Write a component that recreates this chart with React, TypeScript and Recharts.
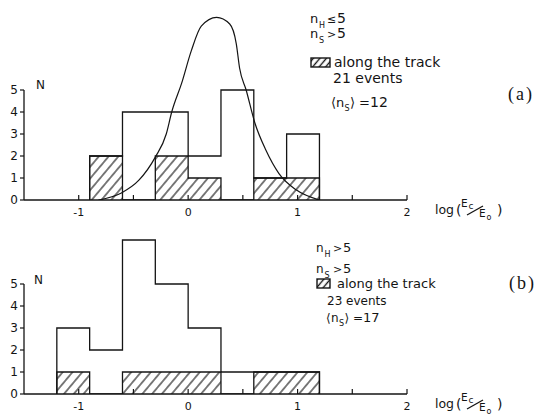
import React from 'react';
import { ComposedChart, Line, Area, XAxis, YAxis, ReferenceLine } from 'recharts';

// Histogram bins in log(Ec/E0), bin width 0.3
const binEdgesA = [-0.9, -0.6, -0.3, 0, 0.3, 0.6, 0.9, 1.2];
const totalCountsA = [2, 4, 4, 2, 5, 1, 3];
const trackCountsA = [2, 0, 2, 1, 0, 1, 1];

const binEdgesB = [-1.2, -0.9, -0.6, -0.3, 0, 0.3, 0.6, 0.9, 1.2];
const totalCountsB = [3, 2, 7, 5, 3, 1, 1, 1];
const trackCountsB = [1, 0, 1, 1, 1, 0, 1, 1];

// Expected distribution drawn over panel (a)
const curveX = [-0.82, -0.61, -0.45, -0.3, -0.2, -0.15, -0.06, 0.03, 0.12, 0.26, 0.38, 0.44, 0.47, 0.53, 0.61, 0.71, 0.83, 0.99, 1.2];
const curveN = [0, 0.32, 0.9, 1.95, 3.0, 4.0, 5.3, 6.8, 7.9, 8.3, 8.0, 7.1, 6.0, 5.0, 3.5, 2.27, 1.2, 0.45, 0];

const xTicks = [-1, -0.5, 0, 0.5, 1, 1.5, 2];
const yTicks = [0, 1, 2, 3, 4, 5];

const INK = '#141414';
const SANS = '"DejaVu Sans", sans-serif';

// Step outline points: rise at the first edge, one point per bin, drop at the last edge
const stepPoints = (edges: number[], counts: number[]) => {
  const pts = [{ x: edges[0], n: 0 }];
  counts.forEach((c, i) => pts.push({ x: edges[i], n: c }));
  pts.push({ x: edges[edges.length - 1], n: 0 });
  return pts;
};

const curveData = curveX.map((x, i) => ({ x, n: curveN[i] }));

const fmtTick = (v: number) => (Number.isInteger(v) ? String(v) : '');

type PanelProps = {
  top: number;
  height: number;
  marginTop: number;
  axisHeight: number;
  edges: number[];
  totals: number[];
  track: number[];
  curve?: { x: number; n: number }[];
};

function Panel({ top, height, marginTop, axisHeight, edges, totals, track, curve }: PanelProps) {
  return (
    <div style={{ position: 'absolute', left: 0, top }}>
      <ComposedChart width={543} height={height} margin={{ top: marginTop, right: 136, bottom: 0, left: 0 }}>
        <XAxis
          type="number"
          dataKey="x"
          domain={[-1.5, 2]}
          allowDataOverflow
          ticks={xTicks}
          tickFormatter={fmtTick}
          height={axisHeight}
          tickSize={-5}
          tickMargin={13}
          axisLine={{ stroke: INK, strokeWidth: 1.3 }}
          tickLine={{ stroke: INK, strokeWidth: 1.2 }}
          tick={{ fill: INK, fontSize: 11, fontFamily: SANS }}
        />
        <YAxis
          type="number"
          domain={[0, 9]}
          allowDataOverflow
          ticks={yTicks}
          width={24}
          axisLine={false}
          tickSize={4}
          tickMargin={2}
          tickLine={{ stroke: INK, strokeWidth: 1.2 }}
          tick={{ fill: INK, fontSize: 12, fontFamily: SANS }}
        />
        <ReferenceLine
          segment={[{ x: -1.5, y: 0 }, { x: -1.5, y: 5 }]}
          stroke={INK}
          strokeWidth={1.3}
        />
        <Area
          data={stepPoints(edges, track)}
          dataKey="n"
          type="stepAfter"
          fill="url(#hatch)"
          fillOpacity={1}
          stroke={INK}
          strokeWidth={1.3}
          dot={false}
          activeDot={false}
          isAnimationActive={false}
        />
        <Line
          data={stepPoints(edges, totals)}
          dataKey="n"
          type="stepAfter"
          stroke={INK}
          strokeWidth={1.3}
          dot={false}
          activeDot={false}
          isAnimationActive={false}
        />
        {curve && (
          <Line
            data={curve}
            dataKey="n"
            type="monotone"
            stroke={INK}
            strokeWidth={1.2}
            dot={false}
            activeDot={false}
            isAnimationActive={false}
          />
        )}
      </ComposedChart>
    </div>
  );
}

function AxisTitle({ dy }: { dy: number }) {
  return (
    <g fill={INK} fontFamily={SANS}>
      <text x={435} y={214 + dy} fontSize={12.5}>log</text>
      <text x={456} y={215 + dy} fontSize={14}>(</text>
      <text x={461} y={207 + dy} fontSize={10.5}>E</text>
      <text x={468.5} y={209 + dy} fontSize={9}>c</text>
      <line x1={467} y1={215 + dy} x2={483} y2={206 + dy} stroke={INK} strokeWidth={1.3} />
      <text x={479} y={217 + dy} fontSize={10.5}>E</text>
      <text x={486.5} y={220 + dy} fontSize={8}>o</text>
      <text x={497} y={215 + dy} fontSize={14}>)</text>
    </g>
  );
}

export default function App() {
  return (
    <div style={{ position: 'absolute', left: 0, top: 0, width: 543, height: 415, background: '#fff' }}>
      <Panel
        top={0}
        height={230}
        marginTop={2}
        axisHeight={30}
        edges={binEdgesA}
        totals={totalCountsA}
        track={trackCountsA}
        curve={curveData}
      />
      <Panel
        top={196}
        height={219}
        marginTop={0}
        axisHeight={21}
        edges={binEdgesB}
        totals={totalCountsB}
        track={trackCountsB}
      />
      <svg
        width={543}
        height={415}
        style={{ position: 'absolute', left: 0, top: 0, pointerEvents: 'none' }}
      >
        <defs>
          <pattern id="hatch" patternUnits="userSpaceOnUse" width={7.5} height={7.5} patternTransform="rotate(40)">
            <line x1={3.75} y1={0} x2={3.75} y2={7.5} stroke={INK} strokeWidth={1.1} />
          </pattern>
          <pattern id="hatchKey" patternUnits="userSpaceOnUse" width={5} height={5} patternTransform="rotate(40)">
            <line x1={2.5} y1={0} x2={2.5} y2={5} stroke={INK} strokeWidth={1.4} />
          </pattern>
        </defs>

        {/* panel (a) */}
        <g fill={INK} fontFamily={SANS}>
          <text x={36} y={89} fontSize={12}>N</text>

          <text x={310} y={23} fontSize={13}>n</text>
          <text x={319} y={27.5} fontSize={8}>H</text>
          <text x={327} y={23} fontSize={11}>≤</text>
          <text x={337} y={23} fontSize={14}>5</text>

          <text x={310} y={38} fontSize={13}>n</text>
          <text x={319} y={42.5} fontSize={8}>S</text>
          <text x={327} y={38} fontSize={11}>&gt;</text>
          <text x={337} y={38} fontSize={14}>5</text>

          <rect x={311} y={58} width={19} height={9} fill="url(#hatchKey)" stroke={INK} strokeWidth={1.4} />
          <text x={334} y={67} fontSize={14}>along the track</text>
          <text x={333} y={83} fontSize={14}>21 events</text>

          <text x={331} y={107} fontSize={13}>⟨</text>
          <text x={336} y={107} fontSize={13}>n</text>
          <text x={344.5} y={111} fontSize={8}>S</text>
          <text x={350} y={107} fontSize={13}>⟩</text>
          <text x={359} y={107} fontSize={13}>=</text>
          <text x={370} y={107} fontSize={14}>12</text>
        </g>
        <text x={508} y={100} fontSize={18} letterSpacing={2} fontFamily='"Liberation Serif", serif' fill={INK}>(a)</text>
        <AxisTitle dy={0} />

        {/* panel (b) */}
        <g fill={INK} fontFamily={SANS}>
          <text x={34} y={284} fontSize={12}>N</text>

          <text x={316} y={252} fontSize={12}>n</text>
          <text x={324.5} y={256.5} fontSize={8}>H</text>
          <text x={333} y={252} fontSize={11}>&gt;</text>
          <text x={343} y={252} fontSize={13}>5</text>

          <text x={316} y={273} fontSize={12}>n</text>
          <text x={324.5} y={277.5} fontSize={8}>S</text>
          <text x={333} y={273} fontSize={11}>&gt;</text>
          <text x={343} y={273} fontSize={13}>5</text>

          <rect x={317} y={279} width={13} height={9} fill="url(#hatchKey)" stroke={INK} strokeWidth={1.4} />
          <text x={337} y={288} fontSize={13}>along the track</text>
          <text x={327} y={305} fontSize={12}>23 events</text>

          <text x={326} y={322} fontSize={12}>⟨</text>
          <text x={331} y={322} fontSize={12}>n</text>
          <text x={339} y={326} fontSize={8}>S</text>
          <text x={344.5} y={322} fontSize={12}>⟩</text>
          <text x={353} y={322} fontSize={12}>=</text>
          <text x={363} y={322} fontSize={13}>17</text>
        </g>
        <text x={509} y={289} fontSize={18} letterSpacing={2} fontFamily='"Liberation Serif", serif' fill={INK}>(b)</text>
        <AxisTitle dy={194} />
      </svg>
    </div>
  );
}
